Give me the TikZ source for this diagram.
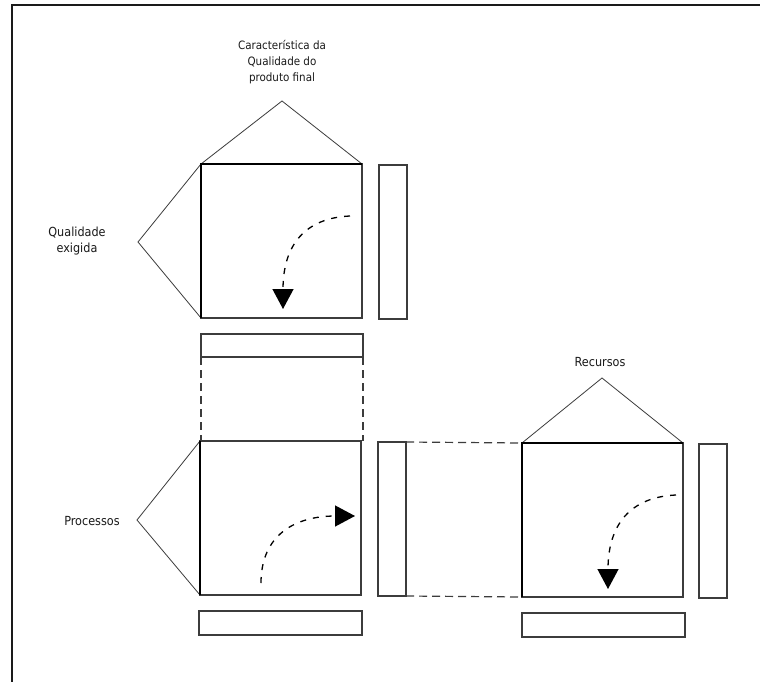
\documentclass[tikz,border=0pt]{standalone}
\usepackage{fontspec}
\setmainfont{DejaVu Sans Condensed}
\usetikzlibrary{arrows.meta}
\definecolor{edge}{HTML}{3C3C3C}
\definecolor{ink}{HTML}{1A1A1A}
\tikzset{
  box/.style={draw=edge, line width=1.1pt, inner sep=0pt, outer sep=0pt, rectangle},
  heavy/.style={draw=black, line width=2.2pt, line cap=square},
  roof/.style={draw=edge, line width=0.8pt},
  guide/.style={draw=edge, line width=1.2pt, dash pattern=on 8pt off 5pt},
  flow/.style={draw=black, line width=1.3pt, dash pattern=on 6pt off 7pt,
    -{Triangle[length=20pt,width=21pt]}},
  label/.style={text=ink, font=\fontsize{12.5}{16}\selectfont, align=center, inner sep=0pt},
  title/.style={label, font=\fontsize{11.5}{16}\selectfont}
}
\begin{document}
\begin{tikzpicture}[x=1pt,y=-1pt]
\useasboundingbox (0,0) rectangle (760,682);
\fill[white] (0,0) rectangle (760,682);
% frame of the sheet
\draw[line width=1.6pt, draw=ink] (12,682) -- (12,5) -- (760,5);

% ---- quality matrix (top left)
\node[box, minimum width=161pt, minimum height=154pt] (sqA) at (281.5,241) {};
\node[box, minimum width=28pt, minimum height=154pt] (sideA) at (393,242) {};
\node[box, minimum width=162pt, minimum height=23pt] (botA) at (282,345.5) {};
\coordinate (apexAtop) at (282,101);
\coordinate (apexAleft) at (138,242);
\draw[roof] (sqA.north west) -- (apexAtop) -- (sqA.north east);
\draw[roof] (sqA.north west) -- (apexAleft) -- (sqA.south west);
\draw[heavy] (sqA.south west) -- (sqA.north west) -- (sqA.north east);
\node[title] (tA) at (282,62) {Característica da\\Qualidade do\\produto final};
\node[label] (lA) at (77,241) {Qualidade\\exigida};
\coordinate (fA1) at (350,216);
\coordinate (fA2) at (283,309);
\draw[flow] (fA1) .. controls (305,218) and (283,245) .. (fA2);

% ---- process matrix (bottom left)
\node[box, minimum width=161pt, minimum height=154pt] (sqB) at (280.5,518) {};
\node[box, minimum width=28pt, minimum height=154pt] (sideB) at (392,519) {};
\node[box, minimum width=163pt, minimum height=24pt] (botB) at (280.5,623) {};
\coordinate (apexBleft) at (137,520);
\draw[roof] (sqB.north west) -- (apexBleft) -- (sqB.south west);
\draw[heavy] (sqB.south west) -- (sqB.north west);
\node[label] (lB) at (92,521) {Processos};
\coordinate (fB1) at (261,583);
\coordinate (fB2) at (355,516);
\draw[flow] (fB1) .. controls (261,535) and (295,516) .. (fB2);

% ---- resource matrix (bottom right)
\node[box, minimum width=161pt, minimum height=154pt] (sqC) at (602.5,520) {};
\node[box, minimum width=28pt, minimum height=154pt] (sideC) at (713,521) {};
\node[box, minimum width=163pt, minimum height=24pt] (botC) at (603.5,625) {};
\coordinate (apexCtop) at (602,378);
\draw[roof] (sqC.north west) -- (apexCtop) -- (sqC.north east);
\draw[heavy] (sqC.south west) -- (sqC.north west) -- (sqC.north east);
\node[label] (tC) at (600,362) {Recursos};
\coordinate (fC1) at (676,495);
\coordinate (fC2) at (608,589);
\draw[flow] (fC1) .. controls (630,497) and (608,525) .. (fC2);

% ---- links between the matrices
\draw[guide] (botA.south west) -- (botA.south west |- sqB.north);
\draw[guide] (botA.south east) -- (botA.south east |- sqB.north);
\draw[guide] (sideB.north east) -- (sqC.north west);
\draw[guide] (sideB.south east) -- (sqC.south west);
\end{tikzpicture}
\end{document}
